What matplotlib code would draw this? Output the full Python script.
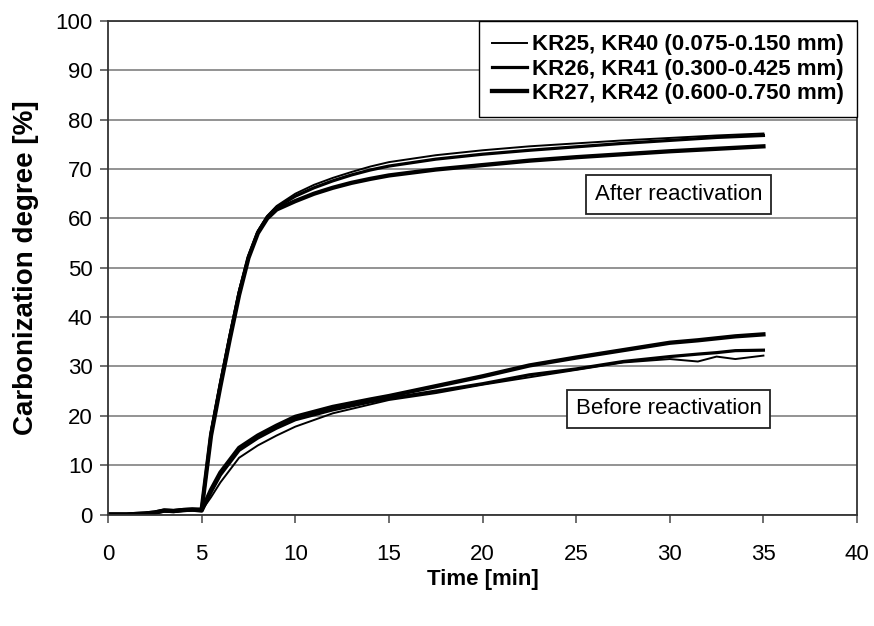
import matplotlib
matplotlib.use("Agg")
import matplotlib.pyplot as plt
from matplotlib.lines import Line2D

plt.rcParams['font.family'] = ['Liberation Sans', 'DejaVu Sans']

# ---- data ----
t_after = [0, 1, 2, 2.5, 3, 3.5, 4, 4.5, 5, 5.5, 6, 6.5, 7, 7.5, 8, 8.5, 9, 10, 11, 12, 13, 14, 15,
           17.5, 20, 22.5, 25, 27.5, 30, 32.5, 35]
after_fine = [0, 0, 0.2, 0.4, 0.8, 0.7, 0.9, 1.0, 1, 17, 27, 36.5, 45.5, 52.5, 57.5, 60.5, 62.5, 65, 66.8,
              68.2, 69.4, 70.5, 71.4, 72.8, 73.8, 74.6, 75.2, 75.8, 76.3, 76.8, 77.2]
after_medium = [0, 0, 0.2, 0.4, 0.8, 0.7, 0.9, 1.0, 1, 16.5, 26.5, 36, 45, 52.2, 57.2, 60.3, 62.2, 64.5, 66.2,
                67.6, 68.8, 69.8, 70.6, 72.0, 73.0, 73.8, 74.5, 75.2, 75.8, 76.4, 76.8]
after_coarse = [0, 0, 0.2, 0.4, 0.8, 0.7, 0.9, 1.0, 1, 16, 26, 35.5, 44.5, 52, 57, 60, 61.8, 63.5, 65,
                66.2, 67.2, 68, 68.7, 69.9, 70.8, 71.7, 72.4, 73, 73.6, 74.1, 74.6]

t_before = [0, 1, 2, 2.5, 3, 3.5, 4, 4.5, 5, 5.5, 6, 6.5, 7, 8, 9, 10, 12, 14, 15, 17.5, 20, 22.5, 25,
            27.5, 30, 31.5, 32.5, 33.5, 35]
before_fine = [0, 0, 0.2, 0.4, 0.8, 0.7, 0.9, 1.0, 0.8, 3.5, 6.5, 9, 11.5, 14, 16, 17.8, 20.5, 22.3, 23.2,
               24.6, 26.3, 27.8, 29.3, 30.8, 31.5, 31, 32, 31.5, 32.2]
before_medium = [0, 0, 0.2, 0.4, 0.8, 0.7, 0.9, 1.0, 0.8, 4.5, 8, 10.5, 13, 15.5, 17.5, 19.2, 21.2, 22.8,
                 23.5, 25, 26.5, 28.3, 29.5, 31, 32, 32.5, 32.8, 33.2, 33.3]
before_coarse = [0, 0, 0.2, 0.4, 0.8, 0.7, 0.9, 1.0, 0.8, 5, 8.5, 11, 13.5, 16, 18, 19.8, 21.8, 23.3, 24,
                 26, 28, 30.2, 31.8, 33.3, 34.8, 35.3, 35.7, 36.1, 36.5]

legend_labels = ["KR25, KR40 (0.075-0.150 mm)",
                 "KR26, KR41 (0.300-0.425 mm)",
                 "KR27, KR42 (0.600-0.750 mm)"]
x_ticks = [0, 5, 10, 15, 20, 25, 30, 35, 40]
y_ticks = [0, 10, 20, 30, 40, 50, 60, 70, 80, 90, 100]

# ---- figure ----
fig = plt.figure(figsize=(8.74, 6.26), dpi=100)
ax = fig.add_axes([0.1236, 0.1781, 0.857, 0.7884])

lws = [1.4, 2.3, 3.1]
for y, lw in zip([after_fine, after_medium, after_coarse], lws):
    ax.plot(t_after, y, color='black', lw=lw, solid_joinstyle='round')
for y, lw in zip([before_fine, before_medium, before_coarse], lws):
    ax.plot(t_before, y, color='black', lw=lw, solid_joinstyle='round')

ax.set_xlim(0, 40)
ax.set_ylim(0, 100)
ax.set_xticks(x_ticks)
ax.set_yticks(y_ticks)
ax.yaxis.grid(True, color='#8a8a8a', lw=1.3)
ax.set_axisbelow(True)
for s in ax.spines.values():
    s.set_color('#333333')
    s.set_linewidth(1.3)
ax.tick_params(axis='both', direction='out', length=6, width=1.2, color='#555555',
               labelsize=16, pad=5)
ax.tick_params(axis='x', pad=15)

ax.set_xlabel("Time [min]", fontsize=16, fontweight='bold', labelpad=3)
ax.set_ylabel("Carbonization degree [%]", fontsize=20, fontweight='bold', labelpad=12)

handles = [Line2D([], [], color='black', lw=lw) for lw in lws]
leg = ax.legend(handles, legend_labels, loc='upper right', borderaxespad=0,
                prop={'size': 16, 'weight': 'bold'}, handlelength=1.6, handletextpad=0.2,
                labelspacing=0.15, borderpad=0.6, fancybox=False, framealpha=1,
                edgecolor='black')
leg.get_frame().set_linewidth(1.0)

box = dict(boxstyle='square,pad=0.4', fc='white', ec='#222222', lw=1.3)
ax.text(30.47, 64.9, "After reactivation", fontsize=16, ha='center', va='center', bbox=box)
ax.text(29.94, 21.4, "Before reactivation", fontsize=16, ha='center', va='center', bbox=box)

fig.savefig("out.png", dpi=100)
